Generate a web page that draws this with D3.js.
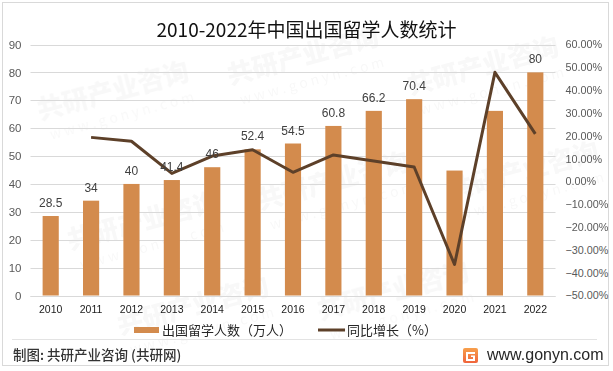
<!DOCTYPE html>
<html>
<head>
<meta charset="utf-8">
<script src="https://cdn.jsdelivr.net/npm/d3@7"></script>
<style>
body { margin: 0; background: #fff; }
svg { display: block; font-family: "Noto Sans CJK SC", "Noto Sans", sans-serif; }
.axis path { display: none; }
.axis line { display: none; }
</style>
</head>
<body>
<div id="chart"></div>
<script>
// data
const years = ["2010","2011","2012","2013","2014","2015","2016","2017","2018","2019","2020","2021","2022"]
const students = [28.5, 34, 40, 41.4, 46, 52.4, 54.5, 60.8, 66.2, 70.4, 44.8, 66.2, 80]
const shownLabels = [true, true, true, true, true, true, true, true, true, true, false, false, true]
const growth = [null, 0.193, 0.176, 0.035, 0.111, 0.139, 0.040, 0.116, 0.089, 0.063, -0.364, 0.478, 0.208]
const title = "2010-2022年中国出国留学人数统计"
const seriesNames = ["出国留学人数（万人）", "同比增长（%）"]

width = 613
height = 371
margin = ({top: 44.5, right: 57.5, bottom: 75.5, left: 30.5})
barColor = "#d38b4d"
lineColor = "#5d4029"

const svg = d3.select("#chart").append("svg")
  .attr("width", width)
  .attr("height", height)

// outer frame
svg.append("rect")
  .attr("x", 2.5).attr("y", 2.5)
  .attr("width", 606).attr("height", 363)
  .attr("fill", "#fff")
  .attr("stroke", "#d9d9d9")

// faint watermark tiles, kept inside the frame
const wm = svg.append("g").attr("fill", "#000").attr("opacity", 0.03)
const wmSpots = [[40, 120], [230, 85], [410, 95], [70, 250], [260, 210], [450, 200], [120, 335], [320, 320]]
wmSpots.forEach(p => {
  const g = wm.append("g").attr("transform", `translate(${p[0]},${p[1]}) rotate(-15)`)
  g.append("text").text("共研产业咨询")
    .attr("font-size", 26).attr("font-weight", 900)
  g.append("text").text("w w w . g o n y n . c o m")
    .attr("y", 22).attr("x", 6).attr("font-size", 14)
})

x = d3.scaleBand()
  .domain(years)
  .range([margin.left, width - margin.right])
  .paddingInner(0.6)
  .paddingOuter(0.3)

y = d3.scaleLinear()
  .domain([0, 90])
  .range([height - margin.bottom, margin.top])

y2 = d3.scaleLinear()
  .domain([-0.5, 0.6])
  .range([height - margin.bottom, margin.top])

// gridlines
svg.append("g")
  .selectAll("line")
  .data(y.ticks(9))
  .enter().append("line")
  .attr("x1", margin.left).attr("x2", width - margin.right)
  .attr("y1", d => Math.round(y(d)) + 0.5).attr("y2", d => Math.round(y(d)) + 0.5)
  .attr("stroke", "#d9d9d9")

// left axis
svg.append("g")
  .attr("class", "axis")
  .attr("transform", `translate(${margin.left - 9},0)`)
  .call(d3.axisLeft(y).ticks(9).tickSize(0).tickPadding(0))
  .selectAll("text")
  .style("font-size", "11.5px")
  .style("font-family", "'Liberation Sans', Arial, sans-serif")
  .attr("fill", "#595959")

// right axis
svg.append("g")
  .attr("class", "axis")
  .attr("transform", `translate(${width - margin.right + 10},0)`)
  .call(d3.axisRight(y2).ticks(11).tickFormat(d3.format(".2%")).tickSize(0).tickPadding(0))
  .selectAll("text")
  .style("font-size", "10.8px")
  .style("font-family", "'Liberation Sans', Arial, sans-serif")
  .attr("fill", "#595959")

// bars
svg.append("g")
  .attr("fill", barColor)
  .selectAll("rect")
  .data(students)
  .enter().append("rect")
  .attr("x", (d, i) => x(years[i]))
  .attr("y", d => y(d))
  .attr("width", x.bandwidth())
  .attr("height", d => y(0) - y(d))

// x axis
svg.append("g")
  .attr("class", "axis")
  .attr("transform", `translate(0,${height - margin.bottom})`)
  .call(d3.axisBottom(x).tickSize(0).tickPadding(10))
  .selectAll("text")
  .style("font-size", "10.5px")
  .style("font-family", "'Liberation Sans', Arial, sans-serif")
  .attr("fill", "#1a1a1a")

svg.append("line")
  .attr("x1", margin.left).attr("x2", width - margin.right)
  .attr("y1", Math.round(y(0)) + 0.5).attr("y2", Math.round(y(0)) + 0.5)
  .attr("stroke", "#d9d9d9")

// growth line
lineData = growth.map((d, i) => [years[i], d]).filter(d => d[1] !== null)
svg.append("path")
  .datum(lineData)
  .attr("fill", "none")
  .attr("stroke", lineColor)
  .attr("stroke-width", 3)
  .attr("stroke-linejoin", "round")
  .attr("d", d3.line()
    .x(d => x(d[0]) + x.bandwidth() / 2)
    .y(d => y2(d[1])))

// bar value labels
labelData = students.map((d, i) => ({year: years[i], value: d})).filter((d, i) => shownLabels[i])
svg.append("g")
  .selectAll("text")
  .data(labelData)
  .enter().append("text")
  .attr("x", d => x(d.year) + x.bandwidth() / 2)
  .attr("y", d => y(d.value) - 9)
  .attr("text-anchor", "middle")
  .style("font-size", "12px")
  .style("font-family", "'Liberation Sans', Arial, sans-serif")
  .attr("fill", "#404040")
  .text(d => d.value)

// title
svg.append("text")
  .attr("x", 306.5)
  .attr("y", 37)
  .attr("text-anchor", "middle")
  .style("font-size", "19px")
  .attr("fill", "#111")
  .text(title)

// legend
legend = svg.append("g").attr("transform", "translate(134,330)")
legend.append("rect")
  .attr("x", 0).attr("y", -3)
  .attr("width", 25).attr("height", 6)
  .attr("fill", barColor)
legend.append("text")
  .attr("x", 28).attr("dy", "0.36em")
  .style("font-size", "13px")
  .attr("fill", "#262626")
  .text(seriesNames[0])
legend.append("line")
  .attr("x1", 184).attr("x2", 211)
  .attr("stroke", lineColor).attr("stroke-width", 3)
legend.append("text")
  .attr("x", 213).attr("dy", "0.36em")
  .style("font-size", "13px")
  .attr("fill", "#262626")
  .text(seriesNames[1])

// footer
svg.append("line")
  .attr("x1", 12).attr("x2", 597)
  .attr("y1", 339.5).attr("y2", 339.5)
  .attr("stroke", "#e3e3e3")

svg.append("text")
  .attr("x", 13).attr("y", 355).attr("dy", "0.35em")
  .style("font-size", "13.5px")
  .style("font-weight", 500)
  .attr("fill", "#333")
  .text("制图: 共研产业咨询 (共研网)")

grad = svg.append("defs").append("linearGradient")
  .attr("id", "logoGrad").attr("x1", 0).attr("y1", 0).attr("x2", 0).attr("y2", 1)
grad.append("stop").attr("offset", 0).attr("stop-color", "#f7a04c")
grad.append("stop").attr("offset", 1).attr("stop-color", "#f0643c")

logo = svg.append("g").attr("transform", "translate(463,348)")
logo.append("rect").attr("width", 15).attr("height", 15).attr("rx", 2).attr("fill", "url(#logoGrad)")
logo.append("path")
  .attr("d", "M3,4 H12 V6 H5 V11 H10 V9 H8 V7.5 H12 V13 H3 Z")
  .attr("fill", "#fff")

svg.append("text")
  .attr("x", 487).attr("y", 354.5).attr("dy", "0.35em")
  .style("font-size", "16px")
  .style("font-family", "'Liberation Sans', Arial, sans-serif")
  .attr("fill", "#262626")
  .text("www.gonyn.com")
</script>
</body>
</html>
